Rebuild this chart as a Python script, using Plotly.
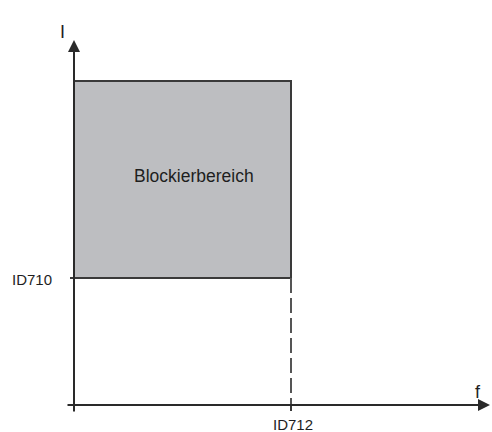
import plotly.graph_objects as go

# Data (logical units: origin at axis crossing, 1 unit ~ 1 px)
axis_labels = ["I", "f"]
tick_labels = ["ID710", "ID712"]
region_label = "Blockierbereich"
f_id712 = 217      # frequency limit ID712
i_id710 = 127      # current limit ID710
i_top = 324        # top of blocking region
f_axis_end = 416
i_axis_end = 365
axis_start = -8

FONT = "Liberation Sans, Arial, sans-serif"
TXT = "#1e1e1e"

fig = go.Figure()

# Blocking region rectangle
fig.add_trace(go.Scatter(
    x=[0, f_id712, f_id712, 0, 0],
    y=[i_id710, i_id710, i_top, i_top, i_id710],
    mode="lines", fill="toself", fillcolor="#bdbec1",
    line=dict(color="#3a3a3a", width=2), hoverinfo="skip", showlegend=False))

# ID710 tick extending left
fig.add_trace(go.Scatter(x=[-4, 0], y=[i_id710, i_id710], mode="lines",
                         line=dict(color="#3a3a3a", width=2), showlegend=False, hoverinfo="skip"))

# Dashed line from region corner down to f-axis (and tick below)
fig.add_trace(go.Scatter(x=[f_id712, f_id712], y=[i_id710, 0], mode="lines",
                         line=dict(color="#555555", width=2, dash="15px,5px"),
                         showlegend=False, hoverinfo="skip"))
fig.add_trace(go.Scatter(x=[f_id712, f_id712], y=[0, -6], mode="lines",
                         line=dict(color="#3a3a3a", width=2), showlegend=False, hoverinfo="skip"))

# Axes with arrows
fig.add_annotation(x=f_axis_end, y=0, ax=axis_start, ay=0, xref="x", yref="y",
                   axref="x", ayref="y", showarrow=True, arrowhead=2, arrowsize=1.2,
                   arrowwidth=2, arrowcolor="#2a2a2a", text="")
fig.add_annotation(x=0, y=i_axis_end, ax=0, ay=axis_start, xref="x", yref="y",
                   axref="x", ayref="y", showarrow=True, arrowhead=2, arrowsize=1.2,
                   arrowwidth=2, arrowcolor="#2a2a2a", text="")

# Text labels
fig.add_annotation(x=-12, y=373, text=axis_labels[0], showarrow=False,
                   font=dict(family=FONT, size=18, color=TXT))
fig.add_annotation(x=404, y=13, text=axis_labels[1], showarrow=False,
                   font=dict(family=FONT, size=18, color=TXT))
fig.add_annotation(x=-20, y=i_id710 - 1, text=tick_labels[0], showarrow=False, xanchor="right",
                   font=dict(family=FONT, size=15, color=TXT))
fig.add_annotation(x=f_id712 + 2, y=-19, text=tick_labels[1], showarrow=False,
                   font=dict(family=FONT, size=15, color=TXT))
fig.add_annotation(x=120, y=229, text=region_label, showarrow=False,
                   font=dict(family=FONT, size=17.5, color=TXT))

fig.update_xaxes(range=[-74, 418], visible=False, fixedrange=True)
fig.update_yaxes(range=[-27, 405], visible=False, fixedrange=True)
fig.update_layout(width=492, height=432, margin=dict(l=0, r=0, t=0, b=0),
                  paper_bgcolor="white", plot_bgcolor="white", showlegend=False)

fig.write_html("out.html", config={"displayModeBar": False},
               post_script="document.body.style.margin='0';document.body.style.overflow='hidden';")
